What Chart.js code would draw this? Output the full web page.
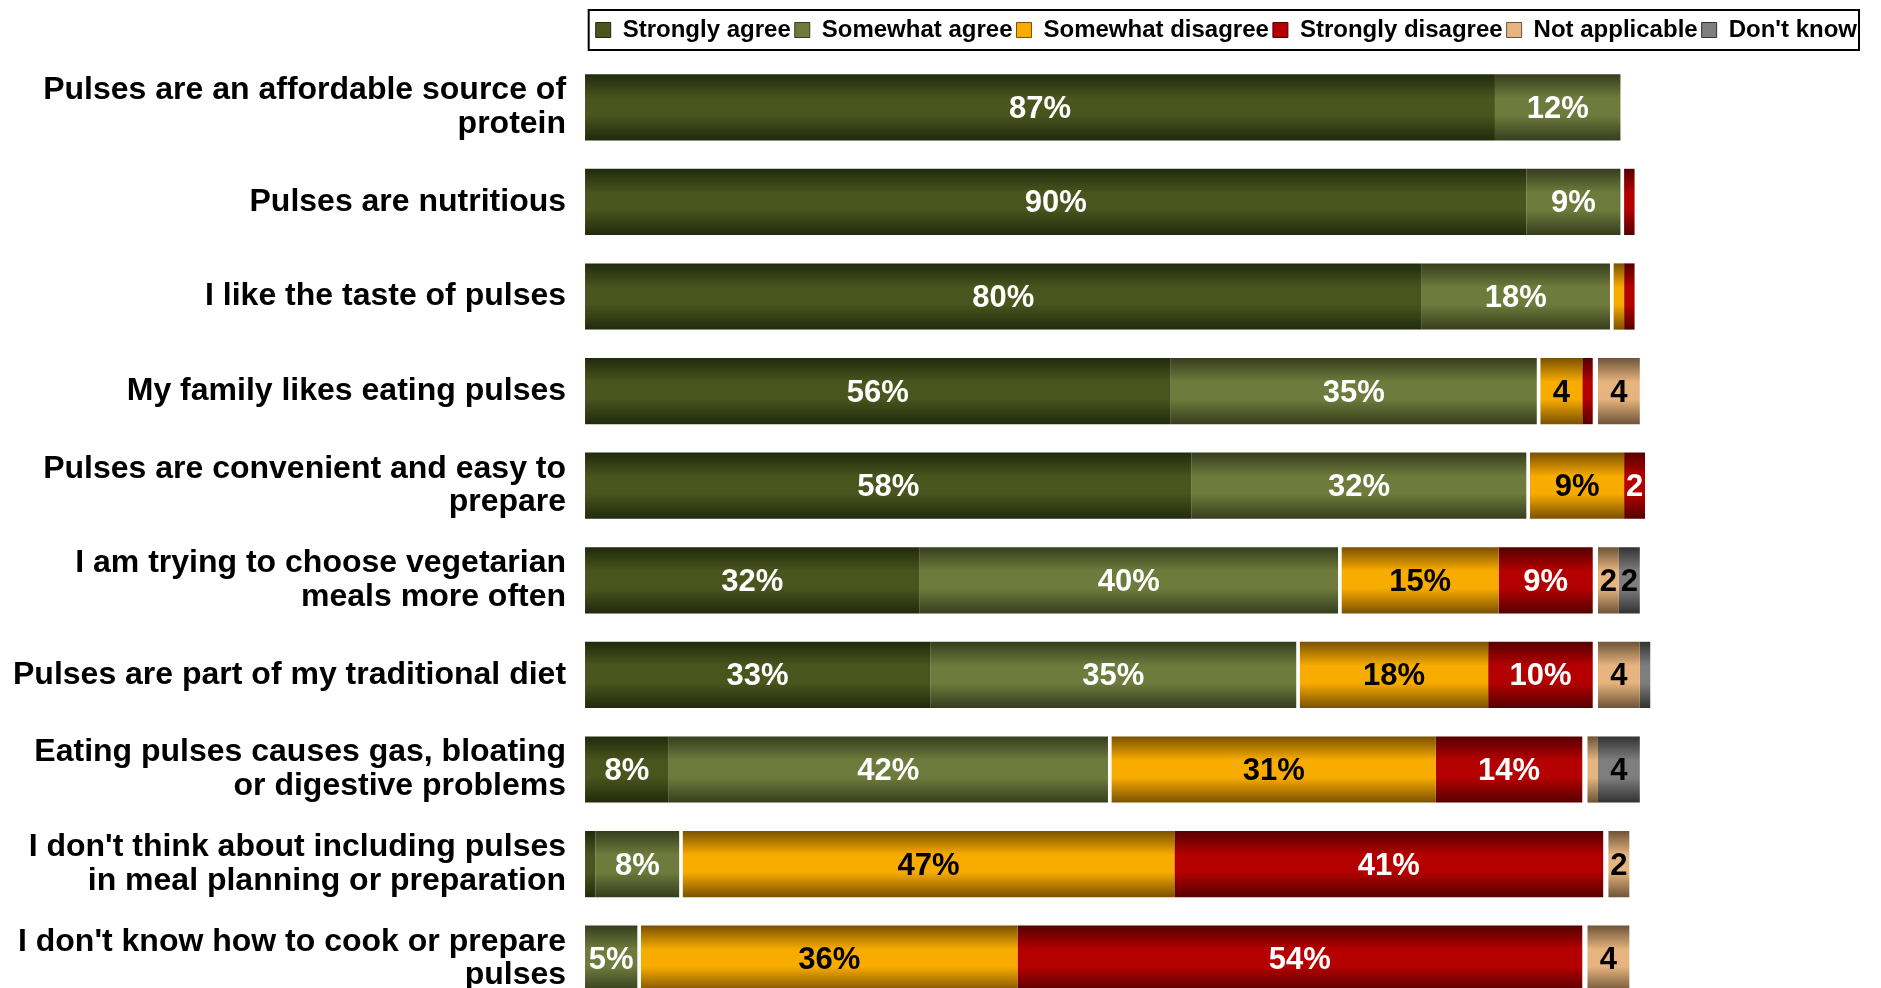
<!DOCTYPE html>
<html>
<head>
<meta charset="utf-8">
<script src="https://cdn.jsdelivr.net/npm/chart.js@4.4.1/dist/chart.umd.min.js"></script>
<style>
  html, body { margin: 0; padding: 0; background: #ffffff; overflow: hidden; }
  #chart { display: block; }
</style>
</head>
<body>
<canvas id="chart" width="1881" height="1006"></canvas>
<script>
// Survey statements (one horizontal bar each), top to bottom
const statements = [
  ["Pulses are an affordable source of", "protein"],
  "Pulses are nutritious",
  "I like the taste of pulses",
  "My family likes eating pulses",
  ["Pulses are convenient and easy to", "prepare"],
  ["I am trying to choose vegetarian", "meals more often"],
  "Pulses are part of my traditional diet",
  ["Eating pulses causes gas, bloating", "or digestive problems"],
  ["I don't think about including pulses", "in meal planning or preparation"],
  ["I don't know how to cook or prepare", "pulses"]
];

// Share of respondents (%) per answer
const stronglyAgree    = [87, 90, 80, 56, 58, 32, 33,  8,  1,  0];
const somewhatAgree    = [12,  9, 18, 35, 32, 40, 35, 42,  8,  5];
const somewhatDisagree = [ 0,  0,  1,  4,  9, 15, 18, 31, 47, 36];
const stronglyDisagree = [ 0,  1,  1,  1,  2,  9, 10, 14, 41, 54];
const notApplicable    = [ 0,  0,  0,  4,  0,  2,  4,  1,  2,  4];
const dontKnow         = [ 0,  0,  0,  0,  0,  2,  1,  4,  0,  0];

const answerNames = ["Strongly agree", "Somewhat agree", "Somewhat disagree",
                     "Strongly disagree", "Not applicable", "Don't know"];

// ---- styling ----
const FONT = '"Liberation Sans", Arial, Helvetica, sans-serif';
const palette = [
  { edge: '#212a0c', mid: '#4a541d', label: '#ffffff' },
  { edge: '#363d1d', mid: '#6f7b3c', label: '#ffffff' },
  { edge: '#7a5100', mid: '#f9ac00', label: '#000000' },
  { edge: '#560000', mid: '#b40000', label: '#ffffff' },
  { edge: '#6e5438', mid: '#e6b47e', label: '#000000' },
  { edge: '#323232', mid: '#7e7e7e', label: '#000000' }
];
// thin white separators between the agree / disagree / other groups (in % units)
const SEP_AGREE = 0.35;
const SEP_OTHER = 0.5;
const BAR_SHARE = 0.7;

function barGradient(colors) {
  return (ctx) => {
    const chart = ctx.chart;
    const y = chart.scales && chart.scales.y;
    if (!y || ctx.type !== 'data' || !chart.chartArea) return colors.mid;
    const band = (y.bottom - y.top) / statements.length;
    const c = y.getPixelForValue(ctx.dataIndex);
    const h = band * BAR_SHARE;
    const g = chart.ctx.createLinearGradient(0, c - h / 2, 0, c + h / 2);
    g.addColorStop(0, colors.edge);
    g.addColorStop(0.36, colors.mid);
    g.addColorStop(0.62, colors.mid);
    g.addColorStop(1, colors.edge);
    return g;
  };
}

function answerSet(i, values) {
  return {
    label: answerNames[i],
    data: values,
    backgroundColor: barGradient(palette[i]),
    labelColor: palette[i].label,
    answer: true
  };
}
function separator(width) {
  return {
    label: '',
    data: statements.map(() => width),
    backgroundColor: 'rgba(255,255,255,0)'
  };
}

function formatShare(v) {
  if (v < 2) return '';
  if (v < 5) return String(v);
  return v + '%';
}

// value text in the middle of each segment
const segmentLabels = {
  id: 'segmentLabels',
  afterDatasetsDraw(chart) {
    const ctx = chart.ctx;
    ctx.save();
    ctx.font = 'bold 31px ' + FONT;
    ctx.textAlign = 'center';
    ctx.textBaseline = 'middle';
    chart.data.datasets.forEach((ds, i) => {
      if (!ds.answer) return;
      const meta = chart.getDatasetMeta(i);
      meta.data.forEach((bar, j) => {
        const text = formatShare(ds.data[j]);
        if (!text) return;
        const p = bar.getProps(['x', 'base', 'y'], true);
        ctx.fillStyle = ds.labelColor;
        ctx.fillText(text, (p.x + p.base) / 2, p.y + 2);
      });
    });
    ctx.restore();
  }
};

// extra room under the legend, and a frame around it
const legendFrame = {
  id: 'legendFrame',
  beforeInit(chart) {
    const lg = chart.legend;
    if (!lg) return;
    const fit = lg.fit;
    lg.fit = function () {
      fit.call(this);
      this.height += 8;
    };
  },
  afterDraw(chart) {
    const lg = chart.legend;
    if (!lg || !lg.legendHitBoxes || !lg.legendHitBoxes.length) return;
    const boxes = lg.legendHitBoxes;
    const left = Math.min(...boxes.map(b => b.left)) - 7;
    const right = Math.max(...boxes.map(b => b.left + b.width)) + 2;
    const cy = boxes[0].top + boxes[0].height / 2;
    const ctx = chart.ctx;
    ctx.save();
    ctx.strokeStyle = '#000000';
    ctx.lineWidth = 2;
    ctx.strokeRect(left, cy - 20, right - left, 40);
    ctx.restore();
  }
};

new Chart(document.getElementById('chart'), {
  type: 'bar',
  data: {
    labels: statements,
    datasets: [
      answerSet(0, stronglyAgree),
      answerSet(1, somewhatAgree),
      separator(SEP_AGREE),
      answerSet(2, somewhatDisagree),
      answerSet(3, stronglyDisagree),
      separator(SEP_OTHER),
      answerSet(4, notApplicable),
      answerSet(5, dontKnow)
    ]
  },
  options: {
    indexAxis: 'y',
    responsive: false,
    animation: false,
    layout: { padding: { left: -6, right: 20, top: 14, bottom: 0 } },
    datasets: { bar: { barPercentage: BAR_SHARE, categoryPercentage: 1.0, borderWidth: 0 } },
    scales: {
      x: {
        stacked: true, display: false, min: 0, max: 122
      },
      y: {
        stacked: true,
        grid: { display: false, drawTicks: false },
        border: { display: false },
        afterFit(scale) {
          // the bands already leave room for the multi-line end labels
          scale.paddingTop = 0;
          scale.paddingBottom = 0;
        },
        ticks: {
          color: '#000000',
          padding: 19,
          font: { family: FONT, size: 32, weight: 'bold', lineHeight: 1.06 }
        }
      }
    },
    plugins: {
      tooltip: { enabled: false },
      legend: {
        position: 'top',
        align: 'end',
        labels: {
          color: '#000000',
          boxWidth: 15,
          boxHeight: 15,
          padding: 4,
          font: { family: FONT, size: 24, weight: 'bold' },
          generateLabels(chart) {
            return chart.data.datasets
              .map((ds, i) => ({ ds, i }))
              .filter(o => o.ds.answer)
              .map(o => {
                const col = palette[answerNames.indexOf(o.ds.label)];
                return {
                  text: o.ds.label,
                  fillStyle: col.mid,
                  strokeStyle: col.edge,
                  lineWidth: 1,
                  hidden: false,
                  datasetIndex: o.i,
                  fontColor: '#000000'
                };
              });
          }
        }
      }
    }
  },
  plugins: [segmentLabels, legendFrame]
});
</script>
</body>
</html>
